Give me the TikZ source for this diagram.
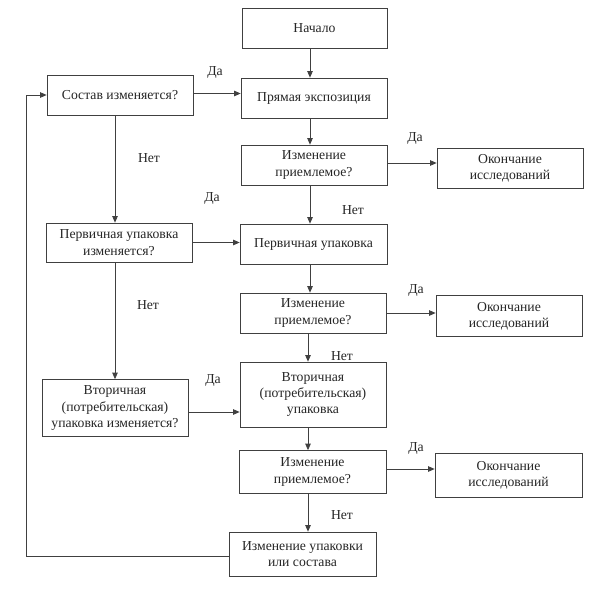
\documentclass[tikz,border=0pt]{standalone}
\usepackage{fontspec}
\setmainfont{Liberation Serif}
\usetikzlibrary{arrows.meta}
\begin{document}
\begin{tikzpicture}[x=1pt,y=-1pt,
  box/.style={draw=black!75, line width=0.75pt, align=center, inner sep=1pt,
    font=\fontsize{13.7}{16.3}\selectfont, text=black!85},
  arr/.style={draw=black!75, line width=0.75pt, -{Triangle[length=6.5pt,width=5.5pt]}},
  lbl/.style={font=\fontsize{13.7}{16.3}\selectfont, text=black!85, inner sep=0pt}]
\useasboundingbox[fill=white] (0,0) rectangle (595,589);
\coordinate (mxa) at (310,0);
\coordinate (mxb) at (308,0);
\coordinate (lx) at (115,0);
\coordinate (fx) at (26,0);
% center column
\node[box, minimum width=145, minimum height=40] (start) at (314.5,28) {Начало};
\node[box, minimum width=146, minimum height=40] (pryam) at (314,98) {Прямая экспозиция};
\node[box, minimum width=146, minimum height=40] (izm1) at (314,165) {Изменение\\приемлемое?};
\node[box, minimum width=147, minimum height=40] (perv) at (313.5,244) {Первичная упаковка};
\node[box, minimum width=146, minimum height=40] (izm2) at (313,313) {Изменение\\приемлемое?};
\node[box, minimum width=146, minimum height=65] (vtor) at (313,394.5) {Вторичная\\(потребительская)\\упаковка};
\node[box, minimum width=147, minimum height=43] (izm3) at (312.5,472) {Изменение\\приемлемое?};
\node[box, minimum width=147, minimum height=44] (change) at (302.5,554) {Изменение упаковки\\или состава};
% left column
\node[box, minimum width=146, minimum height=40] (sost) at (120,95) {Состав изменяется?};
\node[box, minimum width=146, minimum height=39] (pervq) at (119,242.5) {Первичная упаковка\\изменяется?};
\node[box, minimum width=146, minimum height=57] (vtorq) at (115,408) {Вторичная\\(потребительская)\\упаковка изменяется?};
% right column
\node[box, minimum width=146, minimum height=40] (end1) at (510,168.5) {Окончание\\исследований};
\node[box, minimum width=146, minimum height=41] (end2) at (509,316) {Окончание\\исследований};
\node[box, minimum width=147, minimum height=44] (end3) at (508.5,475) {Окончание\\исследований};
% labels
\node[lbl] (l1) at (215,72) {Да};
\node[lbl] (l2) at (149,158) {Нет};
\node[lbl] (l3) at (212,198) {Да};
\node[lbl] (l4) at (148,305) {Нет};
\node[lbl] (l5) at (213,380) {Да};
\node[lbl] (l6) at (415,138) {Да};
\node[lbl] (l7) at (353,210) {Нет};
\node[lbl] (l8) at (416,290) {Да};
\node[lbl] (l9) at (342,356) {Нет};
\node[lbl] (l10) at (416,448) {Да};
\node[lbl] (l11) at (342,515) {Нет};
% connectors
\draw[arr] (start.south -| mxa) -- (pryam.north -| mxa);
\draw[arr] (pryam.south -| mxa) -- (izm1.north -| mxa);
\draw[arr] (izm1.south -| mxa) -- (perv.north -| mxa);
\draw[arr] (perv.south -| mxa) -- (izm2.north -| mxa);
\draw[arr] (izm2.south -| mxb) -- (vtor.north -| mxb);
\draw[arr] (vtor.south -| mxb) -- (izm3.north -| mxb);
\draw[arr] (izm3.south -| mxb) -- (change.north -| mxb);
\draw[arr] ([yshift=1.5]sost.east) -- ([yshift=1.5]sost.east -| pryam.west);
\draw[arr] (pervq.east) -- (pervq.east -| perv.west);
\draw[arr] ([yshift=-4]vtorq.east) -- ([yshift=-4]vtorq.east -| vtor.west);
\draw[arr] (sost.south -| lx) -- (pervq.north -| lx);
\draw[arr] (pervq.south -| lx) -- (vtorq.north -| lx);
\draw[arr] ([yshift=2]izm1.east) -- ([yshift=2]izm1.east -| end1.west);
\draw[arr] (izm2.east) -- (izm2.east -| end2.west);
\draw[arr] ([yshift=3]izm3.east) -- ([yshift=3]izm3.east -| end3.west);
\draw[arr] ([yshift=-2]change.west) -- ([yshift=-2]change.west -| fx) |- (sost.west);
\end{tikzpicture}
\end{document}
